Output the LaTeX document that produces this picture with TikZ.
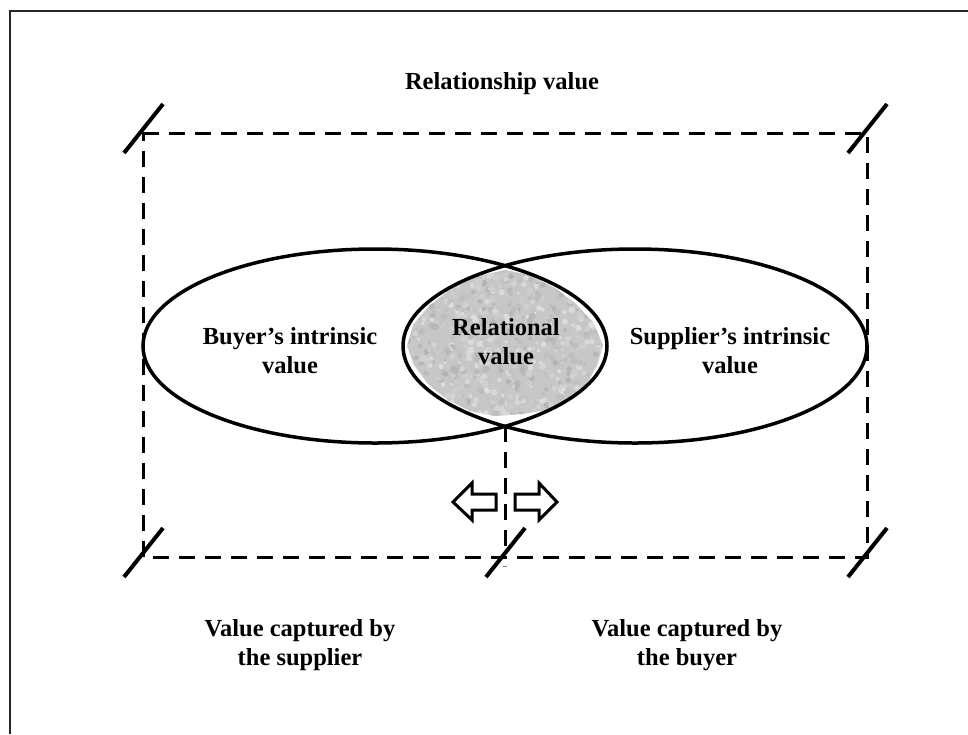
\documentclass[tikz,border=0pt]{standalone}
\usepackage{fontspec}
\setmainfont{Liberation Serif}
\usetikzlibrary{calc,shapes.geometric}

\tikzset{
  frameline/.style={line width=2pt, black!85},
  bounds/.style={line width=3pt, dash pattern=on 16pt off 10pt},
  cutmark/.style={line width=4pt},
  valuering/.style={draw, line width=3.5pt, ellipse},
  blockarrow/.style={draw, line width=3pt, fill=white, line join=miter},
  label/.style={font=\bfseries\fontsize{24.5}{29}\selectfont, align=center, inner sep=0pt},
}

\begin{document}
\begin{tikzpicture}[x=1pt,y=-1pt]
  \useasboundingbox (0,0) rectangle (968,734);

  % open outer frame (left and top sides)
  \coordinate (fbl) at (10,734);
  \coordinate (ftl) at (10,11);
  \coordinate (ftr) at (968,11);
  \draw[frameline] (fbl) -- (ftl) -- (ftr);

  % corners of the relationship boundary
  \coordinate (tl) at (143,133);
  \coordinate (tr) at (867,133);
  \coordinate (bl) at (143,557);
  \coordinate (br) at (867,557);
  \coordinate (bm) at (505,557);

  % gray mottled relational-value area inside the overlap
  \begin{scope}
    \clip (375,346) ellipse [x radius=232pt, y radius=97pt];
    \clip (635,346) ellipse [x radius=232pt, y radius=97pt];
    \clip (505,270) -- (530,275) -- (555,288) -- (576,304) -- (593,322)
      -- (603,345) -- (598,363) -- (588,382) -- (570,398) -- (548,410)
      -- (522,414) -- (494,416) -- (470,411) -- (448,400) -- (428,384)
      -- (414,365) -- (407,346) -- (413,325) -- (430,305) -- (452,288)
      -- (478,276) -- cycle;
    \fill[black!22] (400,260) rectangle (610,430);
    \pgfmathsetseed{7}
    \foreach \k in {1,...,1100} {
      \pgfmathsetmacro\px{400+210*rnd}
      \pgfmathsetmacro\py{260+170*rnd}
      \pgfmathsetmacro\sh{10+22*rnd}
      \pgfmathsetmacro\rr{1.5+2*rnd}
      \fill[black!\sh, opacity=0.8] (\px,\py) circle (\rr pt);
    }
  \end{scope}

  % the two intrinsic-value ellipses
  \node[valuering, minimum width=464pt, minimum height=194pt, inner sep=0pt] (buyer) at (375,346) {};
  \node[valuering, minimum width=464pt, minimum height=194pt, inner sep=0pt] (supplier) at (635,346) {};
  \coordinate (meet) at (505,426);

  % dashed relationship boundary
  \draw[bounds] (tl) -- (tr) -- (br) -- (bl) -- cycle;
  \draw[bounds] (meet) -- (bm);

  % cut marks at the corners and at the split point
  \foreach \c in {tl,tr,bl,br,bm}
    \draw[cutmark] ($(\c)+(-19,20)$) -- ($(\c)+(20,-29)$);

  % small tick under the split point
  \coordinate (tickl) at (503,566);
  \coordinate (tickr) at (507,566);
  \draw[gray, line width=1pt] (tickl) -- (tickr);

  % block arrows on either side of the split
  \draw[blockarrow] (453,502) -- (472,483) -- (472,494) -- (496,494)
    -- (496,510) -- (472,510) -- (472,520) -- cycle;
  \draw[blockarrow] (557,502) -- (539,483) -- (539,494) -- (515,494)
    -- (515,510) -- (539,510) -- (539,520) -- cycle;

  % labels
  \node[label] (title) at (502,84) {Relationship value};
  \node[label] (tbuyer) at (290,351) {Buyer’s intrinsic\\value};
  \node[label] (trel) at (506,342) {Relational\\value};
  \node[label] (tsupp) at (730,351) {Supplier’s intrinsic\\value};
  \node[label] (capsup) at (300,645) {Value captured by\\the supplier};
  \node[label] (capbuy) at (687,645) {Value captured by\\the buyer};
\end{tikzpicture}
\end{document}
